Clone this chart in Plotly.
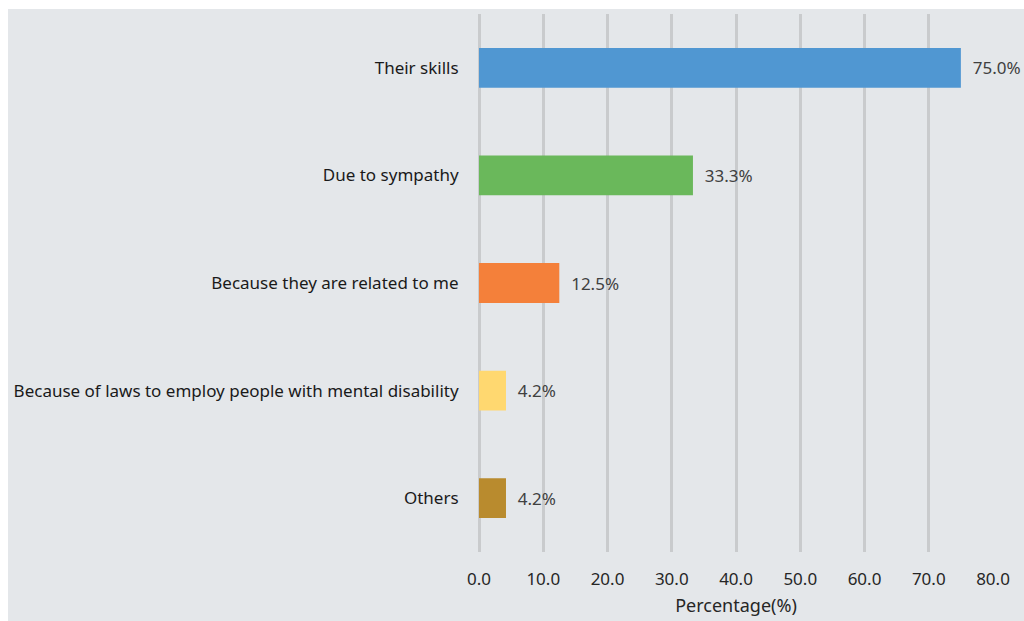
import plotly.graph_objects as go

categories = [
    "Their skills",
    "Due to sympathy",
    "Because they are related to me",
    "Because of laws to employ people with mental disability",
    "Others",
]
values = [75.0, 33.3, 12.5, 4.2, 4.2]
colors = ["#5097D2", "#6AB85B", "#F4803A", "#FFD870", "#B98B2E"]
x_ticks = [0, 10, 20, 30, 40, 50, 60, 70, 80]
x_tick_labels = ["0.0", "10.0", "20.0", "30.0", "40.0", "50.0", "60.0", "70.0", "80.0"]

W, H = 1024, 621
ml, mr, mt, mb = 479, 31, 14, 69
pw, ph = W - ml - mr, H - mt - mb
FONT = "Noto Sans"
GRID = "#C9CBCD"

fig = go.Figure(
    go.Bar(
        x=values,
        y=categories,
        orientation="h",
        marker=dict(color=colors, line=dict(width=0)),
        width=0.37,
        text=["\u00a0\u00a0" + f"{v:.1f}%" for v in values],
        textposition="outside",
        textfont=dict(color="#404040", size=17, family=FONT),
        cliponaxis=False,
        hoverinfo="skip",
    )
)

fig.add_shape(
    type="rect",
    xref="paper", yref="paper",
    x0=(8 - ml) / pw, x1=(W + 2 - ml) / pw,
    y0=-(mb + 2) / ph, y1=1 + (mt - 9) / ph,
    fillcolor="#E4E7EA", line=dict(width=0), layer="below",
)

fig.update_layout(
    width=W, height=H,
    margin=dict(l=ml, r=mr, t=mt, b=mb),
    paper_bgcolor="white",
    plot_bgcolor="rgba(0,0,0,0)",
    showlegend=False,
    font=dict(family=FONT, size=17, color="#1a1a1a"),
    xaxis=dict(
        range=[0, 80],
        tickvals=x_ticks,
        ticktext=x_tick_labels,
        showgrid=True,
        gridcolor=GRID,
        gridwidth=2.6,
        zeroline=True,
        zerolinecolor=GRID,
        zerolinewidth=2.6,
        showline=False,
        ticks="outside",
        ticklen=12,
        tickcolor="rgba(0,0,0,0)",
        tickfont=dict(size=17, color="#262626"),
        title=dict(text="Percentage(%)", font=dict(size=18, color="#262626"), standoff=9),
        automargin=False,
        fixedrange=True,
    ),
    yaxis=dict(
        autorange="reversed",
        showgrid=False,
        zeroline=False,
        showline=False,
        ticks="outside",
        ticklen=16,
        tickcolor="rgba(0,0,0,0)",
        tickfont=dict(size=17, color="#1a1a1a"),
        automargin=False,
        fixedrange=True,
    ),
)

fig.write_html(
    "out.html",
    config={"displayModeBar": False},
    post_script="document.body.style.margin='0';document.body.style.overflow='hidden';",
)
